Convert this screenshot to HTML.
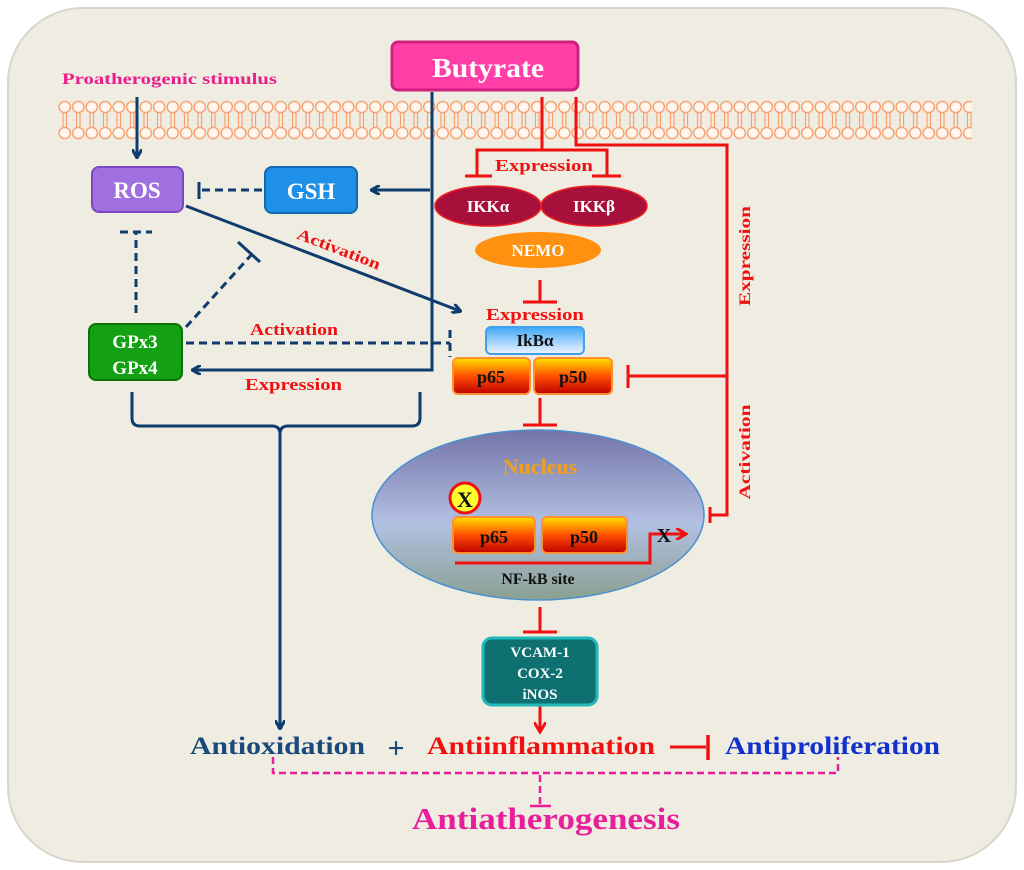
<!DOCTYPE html>
<html><head><meta charset="utf-8"><style>
html,body{margin:0;padding:0;background:#fff;}
svg{display:block;}
text{font-family:"Liberation Serif",serif;font-weight:bold;}
</style></head><body>
<svg width="1024" height="870" viewBox="0 0 1024 870" xmlns="http://www.w3.org/2000/svg">
<defs>
<pattern id="mem" x="58" y="100" width="13.5" height="40" patternUnits="userSpaceOnUse">
<circle cx="6.75" cy="7" r="5.6" fill="#fff6ee" stroke="#f8a070" stroke-width="1.4"/>
<circle cx="6.75" cy="33" r="5.6" fill="#fff6ee" stroke="#f8a070" stroke-width="1.4"/>
<line x1="5" y1="13" x2="5" y2="27" stroke="#f8a070" stroke-width="1.2"/>
<line x1="8.5" y1="13" x2="8.5" y2="27" stroke="#f8a070" stroke-width="1.2"/>
</pattern>
<linearGradient id="pg" x1="0" y1="0" x2="0" y2="1"><stop offset="0" stop-color="#ffe000"/><stop offset="0.5" stop-color="#ff5000"/><stop offset="1" stop-color="#c00000"/></linearGradient>
<linearGradient id="ikb" x1="0" y1="0" x2="0" y2="1"><stop offset="0" stop-color="#40a8f8"/><stop offset="1" stop-color="#f0f4ff"/></linearGradient>
<linearGradient id="nuc" x1="0" y1="0" x2="0" y2="1"><stop offset="0" stop-color="#7474a8"/><stop offset="0.55" stop-color="#b2c0e2"/><stop offset="1" stop-color="#8aa090"/></linearGradient>
<marker id="ab" markerWidth="10" markerHeight="10" refX="8" refY="5" orient="auto" markerUnits="userSpaceOnUse"><path d="M0,0 L9,5 L0,10" fill="none" stroke="#0e3c6e" stroke-width="3"/></marker>
<marker id="ar" markerWidth="12" markerHeight="12" refX="9" refY="6" orient="auto" markerUnits="userSpaceOnUse"><path d="M0,0 L10,6 L0,12" fill="none" stroke="#f01010" stroke-width="3"/></marker>
</defs>
<rect x="8" y="8" width="1008" height="854" rx="75" fill="#efece1" stroke="#d8d6cc" stroke-width="2"/>
<rect x="58" y="100" width="914" height="40" fill="url(#mem)"/>

<!-- Butyrate -->
<rect x="392" y="42" width="186" height="48" rx="6" fill="#ff3fa5" stroke="#d02080" stroke-width="3"/>
<text x="488" y="77" font-size="27" fill="#fff" text-anchor="middle" textLength="112" lengthAdjust="spacingAndGlyphs">Butyrate</text>
<text x="62" y="84" font-size="16" fill="#ea1e8c" textLength="215" lengthAdjust="spacingAndGlyphs">Proatherogenic stimulus</text>

<!-- blue lines -->
<g stroke="#0e3c6e" stroke-width="3" fill="none">
<line x1="137" y1="97" x2="137" y2="157" marker-end="url(#ab)"/>
<polyline points="432,92 432,370 193,370" marker-end="url(#ab)"/>
<line x1="430" y1="190" x2="372" y2="190" marker-end="url(#ab)"/>
<line x1="186" y1="206" x2="460" y2="311" marker-end="url(#ab)"/>
<g stroke-dasharray="8,5">
<line x1="262" y1="190" x2="200" y2="190"/>
<line x1="136" y1="313" x2="136" y2="233"/>
<line x1="186" y1="327" x2="253" y2="253"/>
<line x1="186" y1="343" x2="450" y2="343"/>
<line x1="120" y1="232" x2="152" y2="232"/>
<line x1="450" y1="330" x2="450" y2="357"/>
</g>
<line x1="199" y1="182" x2="199" y2="199"/>
<line x1="238" y1="242" x2="260" y2="262"/>
<path d="M132,392 L132,418 Q132,426 140,426 L272,426 Q280,426 280,434 L280,726" />
<path d="M420,392 L420,418 Q420,426 412,426 L288,426 Q280,426 280,434"/>
</g>
<line x1="280" y1="430" x2="280" y2="728" stroke="#0e3c6e" stroke-width="3" marker-end="url(#ab)"/>

<!-- ROS GSH GPx -->
<rect x="92" y="167" width="91" height="45" rx="7" fill="#a070e0" stroke="#7a48c0" stroke-width="2"/>
<text x="137" y="198" font-size="23" fill="#fff" text-anchor="middle">ROS</text>
<rect x="265" y="167" width="92" height="46" rx="7" fill="#1e90e8" stroke="#1468b0" stroke-width="2"/>
<text x="311" y="199" font-size="23" fill="#fff" text-anchor="middle">GSH</text>
<rect x="89" y="324" width="93" height="56" rx="7" fill="#13a013" stroke="#0a700a" stroke-width="2"/>
<text x="135" y="348" font-size="19" fill="#fff" text-anchor="middle">GPx3</text>
<text x="135" y="374" font-size="19" fill="#fff" text-anchor="middle">GPx4</text>

<text x="337" y="254" font-size="16" fill="#f01010" text-anchor="middle" transform="rotate(21 337 254)" textLength="88" lengthAdjust="spacingAndGlyphs">Activation</text>
<text x="250" y="335" font-size="17" fill="#f01010" textLength="88" lengthAdjust="spacingAndGlyphs">Activation</text>
<text x="245" y="390" font-size="17" fill="#f01010" textLength="97" lengthAdjust="spacingAndGlyphs">Expression</text>

<!-- red lines -->
<g stroke="#f01010" stroke-width="3" fill="none">
<polyline points="542,97 542,150"/>
<polyline points="477,175 477,150 607,150 607,175"/>
<line x1="465" y1="176" x2="492" y2="176"/><line x1="592" y1="176" x2="621" y2="176"/>
<line x1="540" y1="280" x2="540" y2="302"/><line x1="523" y1="302" x2="557" y2="302"/>
<polyline points="576,97 576,145 727,145 727,515 710,515"/>
<line x1="710" y1="507" x2="710" y2="523"/>
<line x1="727" y1="376" x2="628" y2="376"/><line x1="628" y1="365" x2="628" y2="388"/>
<line x1="540" y1="398" x2="540" y2="424"/><line x1="523" y1="425" x2="557" y2="425"/>
<line x1="540" y1="607" x2="540" y2="631"/><line x1="523" y1="632" x2="557" y2="632"/>
<line x1="540" y1="706" x2="540" y2="731" marker-end="url(#ar)"/>
<line x1="670" y1="747" x2="706" y2="747"/><line x1="708" y1="735" x2="708" y2="760" stroke-width="3.5"/>
</g>
<text x="544" y="171" font-size="17" fill="#f01010" text-anchor="middle" textLength="98" lengthAdjust="spacingAndGlyphs">Expression</text>
<text x="535" y="320" font-size="17" fill="#f01010" text-anchor="middle" textLength="98" lengthAdjust="spacingAndGlyphs">Expression</text>
<text x="750" y="256" font-size="16" fill="#f01010" text-anchor="middle" transform="rotate(-90 750 256)" textLength="100" lengthAdjust="spacingAndGlyphs">Expression</text>
<text x="750" y="452" font-size="16" fill="#f01010" text-anchor="middle" transform="rotate(-90 750 452)" textLength="95" lengthAdjust="spacingAndGlyphs">Activation</text>

<!-- IKK NEMO -->
<ellipse cx="488" cy="206" rx="53" ry="20" fill="#a8103c" stroke="#f02020" stroke-width="1.5"/>
<ellipse cx="594" cy="206" rx="53" ry="20" fill="#a8103c" stroke="#f02020" stroke-width="1.5"/>
<text x="488" y="212" font-size="17" fill="#fff" text-anchor="middle">IKKα</text>
<text x="594" y="212" font-size="17" fill="#fff" text-anchor="middle">IKKβ</text>
<ellipse cx="538" cy="250" rx="63" ry="18" fill="#ff9010"/>
<text x="538" y="256" font-size="17" fill="#fff" text-anchor="middle">NEMO</text>

<rect x="486" y="327" width="98" height="27" rx="5" fill="url(#ikb)" stroke="#40a0f0" stroke-width="2"/>
<text x="535" y="346" font-size="17" fill="#111" text-anchor="middle">IkBα</text>
<rect x="453" y="358" width="77" height="36" rx="5" fill="url(#pg)" stroke="#ff9030" stroke-width="2"/>
<rect x="534" y="358" width="78" height="36" rx="5" fill="url(#pg)" stroke="#ff9030" stroke-width="2"/>
<text x="491" y="383" font-size="18" fill="#111" text-anchor="middle">p65</text>
<text x="573" y="383" font-size="18" fill="#111" text-anchor="middle">p50</text>

<!-- Nucleus -->
<ellipse cx="538" cy="515" rx="166" ry="85" fill="url(#nuc)" stroke="#4a90d0" stroke-width="1.5"/>
<text x="540" y="474" font-size="22" fill="#f0a020" text-anchor="middle">Nucleus</text>
<circle cx="465" cy="498" r="15" fill="#ffff30" stroke="#f01010" stroke-width="3"/>
<text x="465" y="507" font-size="22" fill="#111" text-anchor="middle" font-family="Liberation Sans,sans-serif">X</text>
<rect x="453" y="517" width="82" height="36" rx="5" fill="url(#pg)" stroke="#ff9030" stroke-width="2"/>
<rect x="542" y="517" width="85" height="36" rx="5" fill="url(#pg)" stroke="#ff9030" stroke-width="2"/>
<text x="494" y="543" font-size="18" fill="#111" text-anchor="middle">p65</text>
<text x="584" y="543" font-size="18" fill="#111" text-anchor="middle">p50</text>
<polyline points="455,563 650,563 650,534 685,534" fill="none" stroke="#f01010" stroke-width="3" marker-end="url(#ar)"/>
<text x="664" y="542" font-size="20" fill="#111" text-anchor="middle" font-family="Liberation Sans,sans-serif">X</text>
<text x="538" y="584" font-size="16" fill="#111" text-anchor="middle">NF-kB site</text>

<rect x="483" y="638" width="114" height="67" rx="9" fill="#0e7070" stroke="#20b8b8" stroke-width="3"/>
<text x="540" y="657" font-size="15" fill="#fff" text-anchor="middle">VCAM-1</text>
<text x="540" y="678" font-size="15" fill="#fff" text-anchor="middle">COX-2</text>
<text x="540" y="699" font-size="15" fill="#fff" text-anchor="middle">iNOS</text>

<!-- bottom -->
<text x="190" y="754" font-size="25" fill="#1a4a7a" textLength="175" lengthAdjust="spacingAndGlyphs">Antioxidation</text>
<text x="396" y="758" font-size="30" fill="#1a4a7a" text-anchor="middle">+</text>
<text x="427" y="754" font-size="25" fill="#f01010" textLength="228" lengthAdjust="spacingAndGlyphs">Antiinflammation</text>
<text x="725" y="754" font-size="25" fill="#1030d0" textLength="215" lengthAdjust="spacingAndGlyphs">Antiproliferation</text>
<g stroke="#e81e9a" stroke-width="2.5" fill="none" stroke-dasharray="7,4">
<polyline points="273,757 273,773 838,773 838,757"/>
<line x1="540" y1="775" x2="540" y2="804"/>
</g>
<line x1="530" y1="806" x2="551" y2="806" stroke="#e81e9a" stroke-width="2.5"/>
<text x="412" y="829" font-size="31" fill="#e81e9a" textLength="268" lengthAdjust="spacingAndGlyphs">Antiatherogenesis</text>
</svg>
</body></html>
